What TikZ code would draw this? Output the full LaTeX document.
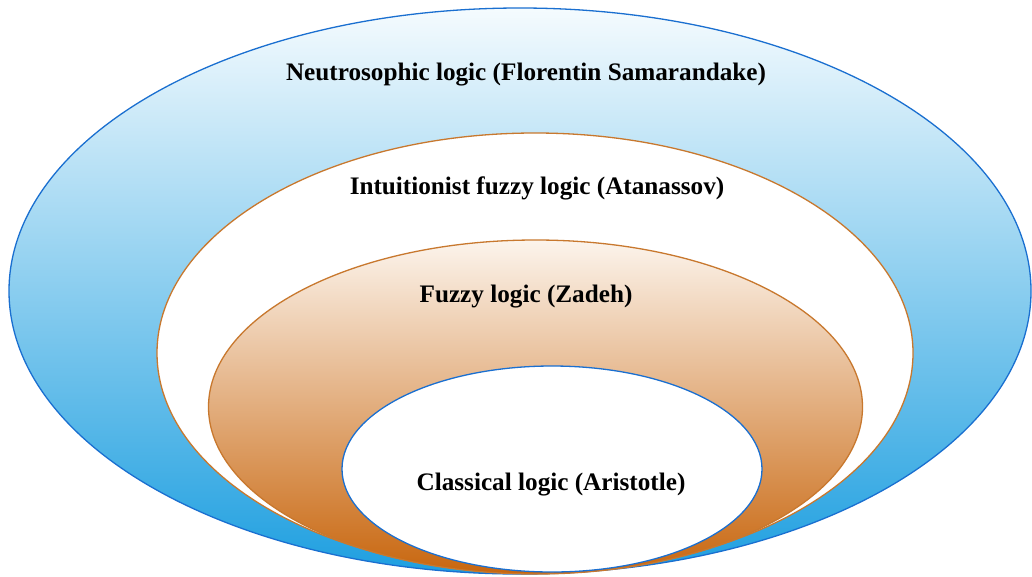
\documentclass[tikz,border=0pt]{standalone}
\usepackage{fontspec}
\setmainfont{Liberation Serif}
\usetikzlibrary{shapes.geometric}
\definecolor{rimblue}{HTML}{1A6FD0}
\definecolor{rimorange}{HTML}{C8782E}
\definecolor{skytop}{HTML}{F5FBFE}
\definecolor{skymid}{HTML}{8ED0EF}
\definecolor{skybot}{HTML}{1E9FE0}
\definecolor{sandtop}{HTML}{FCF4EC}
\definecolor{sandmid}{HTML}{E7B686}
\definecolor{sandbot}{HTML}{C8660E}
\tikzset{
  ring/.style={ellipse, inner sep=0pt, line width=1.3pt},
  caption/.style={font=\fontsize{25.2}{29}\selectfont\bfseries, text=black, inner sep=0pt}
}
\begin{document}
\begin{tikzpicture}[x=1pt, y=-1pt]
  \useasboundingbox (0,0) rectangle (1032,576);
  % nested logic families, outermost first
  \node[ring, draw=rimblue, top color=skytop, middle color=skymid, bottom color=skybot,
        minimum width=1022pt, minimum height=566pt] (neutro) at (520,291) {};
  \node[ring, draw=rimorange, fill=white,
        minimum width=756pt, minimum height=440pt] (intuit) at (535,353) {};
  \node[ring, draw=rimorange, top color=sandtop, middle color=sandmid, bottom color=sandbot,
        minimum width=654pt, minimum height=334pt] (fuzzy) at (535.5,407) {};
  \node[ring, draw=rimblue, fill=white,
        minimum width=420pt, minimum height=206pt] (classic) at (552,469) {};
  % labels
  \node[caption] (neutrolbl) at (526,75) {Neutrosophic logic (Florentin Samarandake)};
  \node[caption] (intuitlbl) at (537,188) {Intuitionist fuzzy logic (Atanassov)};
  \node[caption] (fuzzylbl) at (526,297) {Fuzzy logic (Zadeh)};
  \node[caption] (classiclbl) at (551,485) {Classical logic (Aristotle)};
\end{tikzpicture}
\end{document}
